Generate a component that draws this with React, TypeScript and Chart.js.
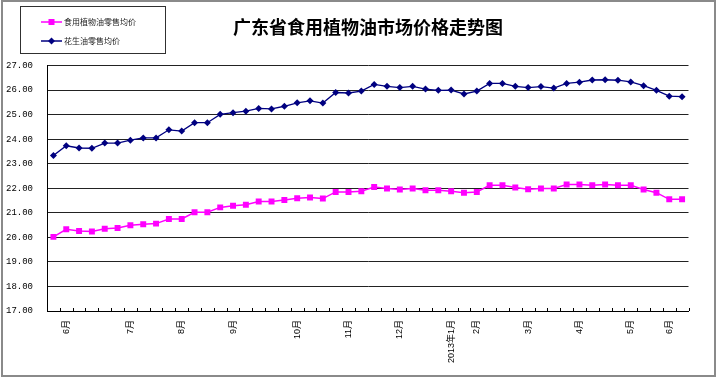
import React, { useEffect, useRef } from "react";
import { Chart, registerables } from "chart.js";

Chart.register(...registerables);

const chartTitle = "广东省食用植物油市场价格走势图";
const seriesNames = ["食用植物油零售均价", "花生油零售均价"];

const xLabels = [
  "", "6月", "", "", "", "", "7月", "", "", "",
  "8月", "", "", "", "9月", "", "", "", "", "10月",
  "", "", "", "11月", "", "", "", "12月", "", "",
  "", "2013年1月", "", "2月", "", "", "", "3月", "", "",
  "", "4月", "", "", "", "5月", "", "", "6月", "",
];

const edibleOil = [
  20.02, 20.33, 20.26, 20.24, 20.35, 20.38, 20.49, 20.53, 20.56, 20.75,
  20.75, 21.02, 21.02, 21.22, 21.29, 21.33, 21.46, 21.46, 21.52, 21.59,
  21.62, 21.58, 21.85, 21.85, 21.88, 22.05, 21.99, 21.95, 21.99, 21.92,
  21.92, 21.88, 21.82, 21.85, 22.12, 22.12, 22.03, 21.96, 21.99, 21.99,
  22.15, 22.15, 22.12, 22.15, 22.12, 22.12, 21.95, 21.82, 21.55, 21.55,
];

const peanutOil = [
  23.33, 23.73, 23.64, 23.63, 23.84, 23.84, 23.96, 24.05, 24.05, 24.38,
  24.33, 24.67, 24.67, 25.01, 25.08, 25.14, 25.25, 25.23, 25.34, 25.48,
  25.56, 25.47, 25.90, 25.88, 25.96, 26.23, 26.15, 26.10, 26.15, 26.04,
  25.99, 26.00, 25.84, 25.96, 26.27, 26.27, 26.15, 26.10, 26.14, 26.08,
  26.27, 26.32, 26.41, 26.42, 26.40, 26.33, 26.18, 25.99, 25.75, 25.73,
];

const yMin = 17;
const yMax = 27;
const yStep = 1;

const MAGENTA = "#FF00FF";
const NAVY = "#000080";

const decorPlugin = {
  id: "decor",
  afterDraw(chart: any) {
    const ctx = chart.ctx as CanvasRenderingContext2D;
    const area = chart.chartArea;
    ctx.save();

    // inward tick marks on x axis at category boundaries
    const n = xLabels.length;
    ctx.strokeStyle = "#000";
    ctx.lineWidth = 1;
    ctx.beginPath();
    for (let k = 0; k <= n; k++) {
      const x = Math.round(area.left + (k * (area.right - area.left)) / n) + 0.5;
      ctx.moveTo(x, area.bottom - 3);
      ctx.lineTo(x, area.bottom);
    }
    ctx.stroke();

    // outer frame
    ctx.strokeStyle = "#8a8a8a";
    ctx.lineWidth = 2;
    ctx.strokeRect(2, 1, 713, 375);

    // title
    ctx.fillStyle = "#000";
    ctx.font = 'bold 18px "Noto Sans CJK SC", sans-serif';
    ctx.textAlign = "center";
    ctx.textBaseline = "middle";
    ctx.fillText(chartTitle, 368, 27);

    // legend box
    ctx.strokeStyle = "#303030";
    ctx.lineWidth = 1;
    ctx.strokeRect(20.5, 6.5, 145, 47);

    const rows = [
      { y: 22, color: MAGENTA, shape: "square", label: seriesNames[0] },
      { y: 41, color: NAVY, shape: "diamond", label: seriesNames[1] },
    ];
    for (const r of rows) {
      ctx.strokeStyle = r.color;
      ctx.lineWidth = 1.5;
      ctx.beginPath();
      ctx.moveTo(41, r.y);
      ctx.lineTo(62, r.y);
      ctx.stroke();
      ctx.fillStyle = r.color;
      if (r.shape === "square") {
        ctx.fillRect(48.5, r.y - 3, 6, 6);
      } else {
        ctx.beginPath();
        ctx.moveTo(51.5, r.y - 3.5);
        ctx.lineTo(55, r.y);
        ctx.lineTo(51.5, r.y + 3.5);
        ctx.lineTo(48, r.y);
        ctx.closePath();
        ctx.fill();
      }
      ctx.fillStyle = "#222";
      ctx.font = '8px "Noto Sans CJK SC", sans-serif';
      ctx.textAlign = "left";
      ctx.textBaseline = "middle";
      ctx.fillText(r.label, 64, r.y);
    }
    ctx.restore();
  },
};

export default function App() {
  const canvasRef = useRef<HTMLCanvasElement | null>(null);

  useEffect(() => {
    const canvas = canvasRef.current;
    if (!canvas) return;
    const chart = new Chart(canvas, {
      type: "line",
      data: {
        labels: xLabels,
        datasets: [
          {
            label: seriesNames[0],
            data: edibleOil,
            borderColor: MAGENTA,
            backgroundColor: MAGENTA,
            borderWidth: 1.5,
            pointStyle: "rect",
            pointRadius: 4.2,
            pointBorderWidth: 0,
            pointBackgroundColor: MAGENTA,
            tension: 0,
          },
          {
            label: seriesNames[1],
            data: peanutOil,
            borderColor: NAVY,
            backgroundColor: NAVY,
            borderWidth: 1.3,
            pointStyle: "rectRot",
            pointRadius: 3.5,
            pointBorderWidth: 0,
            pointBackgroundColor: NAVY,
            tension: 0,
          },
        ],
      },
      options: {
        responsive: false,
        animation: false,
        devicePixelRatio: 1,
        layout: { padding: { left: 0, top: 65.5, right: 31.5, bottom: 0 } },
        plugins: {
          legend: { display: false },
          title: { display: false },
          tooltip: { enabled: false },
        },
        scales: {
          x: {
            type: "category",
            offset: true,
            grid: { display: true, drawOnChartArea: false, drawTicks: false },
            border: { display: true, color: "#000", width: 1 },
            ticks: {
              autoSkip: false,
              minRotation: 90,
              maxRotation: 90,
              padding: 9,
              color: "#000",
              font: { family: '"Liberation Sans", "Noto Sans CJK SC", sans-serif', size: 9 },
            },
            afterFit(scale: any) {
              scale.height = 74;
            },
          },
          y: {
            min: yMin,
            max: yMax,
            grid: { color: "#222", lineWidth: 1, drawTicks: false },
            border: { display: true, color: "#000", width: 1 },
            ticks: {
              stepSize: yStep,
              padding: 14,
              color: "#000",
              font: { family: '"Liberation Mono", monospace', size: 9 },
              callback: (v: any) => Number(v).toFixed(2),
            },
            afterFit(scale: any) {
              scale.width = 47;
            },
          },
        },
      },
      plugins: [decorPlugin],
    });
    return () => chart.destroy();
  }, []);

  return (
    <div style={{ position: "absolute", left: 0, top: 0, width: 720, height: 385, background: "#fff" }}>
      <canvas ref={canvasRef} width={720} height={385} style={{ display: "block" }} />
    </div>
  );
}
